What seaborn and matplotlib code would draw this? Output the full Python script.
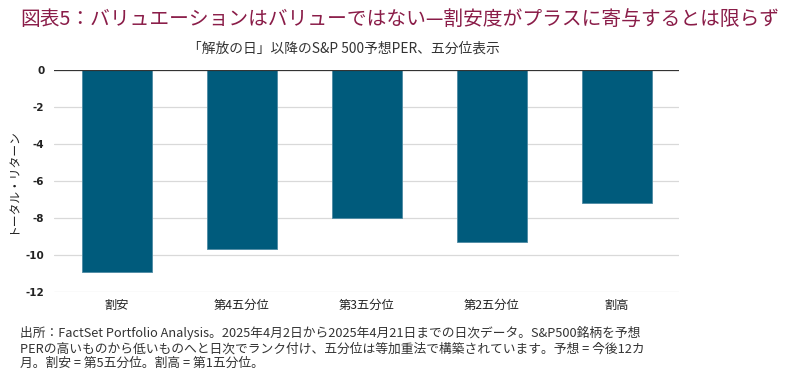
import matplotlib
matplotlib.use("Agg")
import matplotlib.pyplot as plt
import seaborn as sns
import pandas as pd

# Data
quintiles = ["割安", "第4五分位", "第3五分位", "第2五分位", "割高"]
total_return = [-10.9, -9.7, -8.0, -9.3, -7.2]
y_ticks = [0, -2, -4, -6, -8, -10, -12]

TITLE = "図表5：バリュエーションはバリューではない—割安度がプラスに寄与するとは限らず"
SUBTITLE = "「解放の日」以降のS&P 500予想PER、五分位表示"
Y_LABEL = "トータル・リターン"
NOTE = ("出所：FactSet Portfolio Analysis。2025年4月2日から2025年4月21日までの日次データ。S&P500銘柄を予想\n"
        "PERの高いものから低いものへと日次でランク付け、五分位は等加重法で構築されています。予想 = 今後12カ\n"
        "月。割安 = 第5五分位。割高 = 第1五分位。")

BAR_COLOR = "#005b7c"
TITLE_COLOR = "#8a1c48"

sns.set_theme(style="white")
plt.rcParams['font.family'] = ['Noto Sans CJK JP', 'DejaVu Sans']

df = pd.DataFrame({"quintile": quintiles, "ret": total_return})

fig = plt.figure(figsize=(8, 3.77), dpi=100)
ax = fig.add_axes([0.0675, 0.2255, 0.7815, 0.589])

sns.barplot(data=df, x="quintile", y="ret", color=BAR_COLOR, saturation=1,
            width=0.56, edgecolor="#4d8aa3", linewidth=0.6, ax=ax, zorder=3)

ax.set_ylim(-12, 0)
ax.set_xlim(-0.5, 4.5)
ax.set_yticks(y_ticks)
ax.set_yticklabels([str(t) for t in y_ticks], fontsize=7.5, color="#222222",
                   family=['DejaVu Sans'], fontweight="bold")
ax.yaxis.grid(True, color="#d9d9d9", linewidth=0.9, zorder=0)
ax.axhline(0, color="#333333", linewidth=1.6, zorder=4)
for s in ax.spines.values():
    s.set_visible(False)
ax.tick_params(axis="y", length=0, pad=7)
ax.tick_params(axis="x", length=0, pad=5, labelsize=8.8, labelcolor="#222222")
ax.set_xlabel("")
ax.set_ylabel(Y_LABEL, fontsize=8.5, color="#222222", labelpad=4)

fig.text(0.025, 0.975, TITLE, fontsize=14.2, color=TITLE_COLOR, va="top", ha="left")
fig.text(0.43, 0.87, SUBTITLE, fontsize=9.9, color="#333333", va="center", ha="center")
fig.text(0.025, 0.135, NOTE, fontsize=9.2, color="#333333", va="top", ha="left",
         linespacing=1.2)

fig.savefig("out.png", dpi=100)
